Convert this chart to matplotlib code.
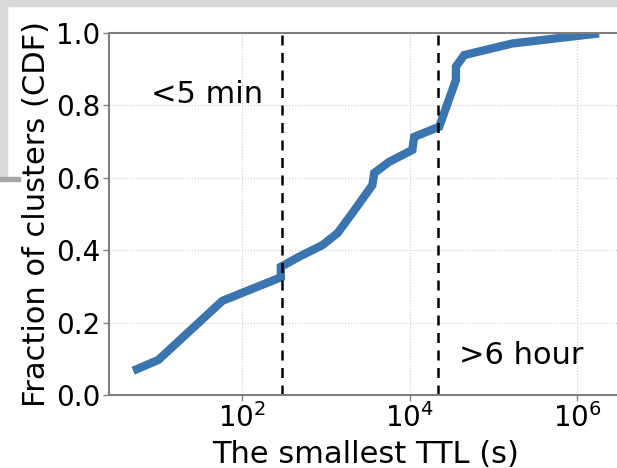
import matplotlib
matplotlib.use("Agg")
import matplotlib.pyplot as plt
from matplotlib.patches import Rectangle
import numpy as np

# Data: smallest TTL (s) vs CDF
ttl = [5, 10, 58, 290, 290, 480, 910, 1380, 2080, 3600, 3780, 5700,
       10800, 11350, 22600, 35800, 35800, 44900, 169000, 1840000]
cdf = [0.067, 0.097, 0.26, 0.325, 0.354, 0.382, 0.414, 0.447, 0.503, 0.58,
       0.613, 0.644, 0.677, 0.713, 0.741, 0.87, 0.907, 0.939, 0.971, 0.999]
vlines = [300, 21600]
annotations = ["<5 min", ">6 hour"]
xlabel = "The smallest TTL (s)"
ylabel = "Fraction of clusters (CDF)"

plt.rcParams['font.family'] = ['DejaVu Sans']
fig = plt.figure(figsize=(6.17, 4.68), dpi=100)
ax = fig.add_axes([109/617, 1-395/468, (623-109)/617, (395-33)/468])

ax.plot(ttl, cdf, color='#3A75B0', lw=6, solid_joinstyle='miter', solid_capstyle='butt')
for v in vlines:
    ax.axvline(v, color='black', ls='--', lw=1.8, dashes=(4, 3))

ax.set_xscale('log')
ax.set_xlim(10**0.41, 10**6.55)
ax.set_ylim(0, 1.0)
ax.set_yticks([0, 0.2, 0.4, 0.6, 0.8, 1.0])
ax.set_xticks([1e2, 1e4, 1e6])
ax.xaxis.set_minor_locator(matplotlib.ticker.NullLocator())
ax.tick_params(labelsize=20, length=4, width=1, color='#808080', pad=2)
ax.grid(True, ls=':', color='#cccccc', lw=0.8)
ax.set_axisbelow(True)
for s in ax.spines.values():
    s.set_color('#7f7f7f')
    s.set_linewidth(1.5)

ax.set_xlabel(xlabel, fontsize=22, labelpad=5)
ax.set_ylabel(ylabel, fontsize=22, labelpad=4)

ax.text(8.2, 0.83, annotations[0], fontsize=22, va='center', ha='left')
ax.text(39000, 0.11, annotations[1], fontsize=22, va='center', ha='left')

# screenshot frame artifacts
fig.patches.append(Rectangle((0, 1-6/468), 1, 6/468, transform=fig.transFigure,
                             color='#d9d9d9', zorder=-1))
fig.patches.append(Rectangle((0, 1-178/468), 7/617, 178/468, transform=fig.transFigure,
                             color='#d9d9d9', zorder=-1))
fig.patches.append(Rectangle((0, 1-181/468), 20/617, 4/468, transform=fig.transFigure,
                             color='#a6a6a6', zorder=-1))

fig.savefig('out.png', dpi=100)
